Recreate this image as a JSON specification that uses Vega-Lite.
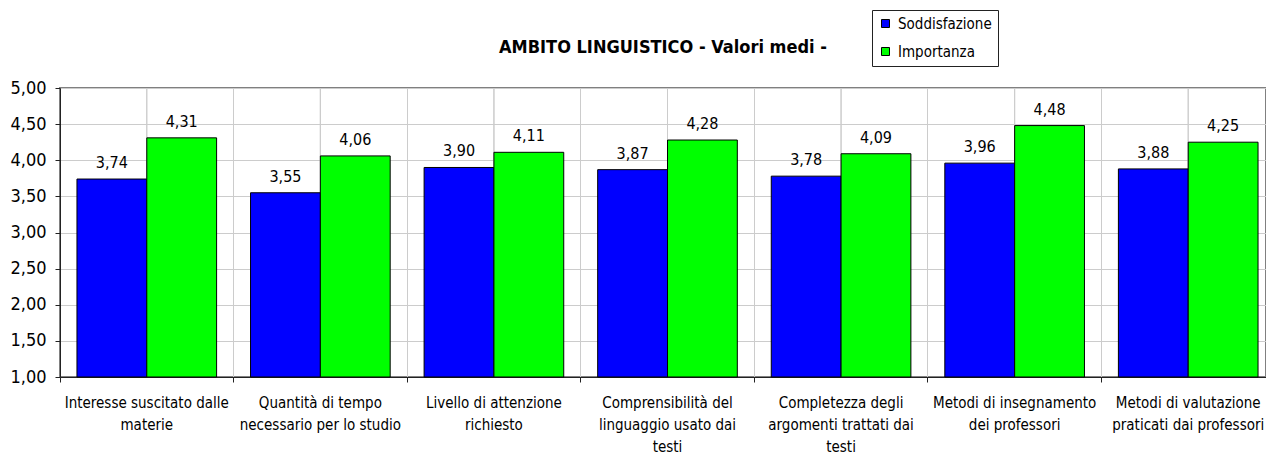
{
  "$schema": "https://vega.github.io/schema/vega-lite/v6.json",
  "autosize": {"type": "none"},
  "width": 1206,
  "height": 289,
  "padding": {"left": 60, "top": 88, "right": 0, "bottom": 80},
  "background": "white",
  "title": {
    "text": "AMBITO LINGUISTICO - Valori medi -",
    "font": "DejaVu Sans Condensed, Liberation Sans Narrow, DejaVu Sans",
    "fontSize": 18,
    "fontWeight": "bold",
    "color": "black",
    "anchor": "middle",
    "offset": 0,
    "dy": 47
  },
  "data": {
    "values": [
      {"categoria": "Interesse suscitato dalle\nmaterie", "serie": "Soddisfazione", "valore": 3.74},
      {"categoria": "Interesse suscitato dalle\nmaterie", "serie": "Importanza", "valore": 4.31},
      {"categoria": "Quantità di tempo\nnecessario per lo studio", "serie": "Soddisfazione", "valore": 3.55},
      {"categoria": "Quantità di tempo\nnecessario per lo studio", "serie": "Importanza", "valore": 4.06},
      {"categoria": "Livello di attenzione\nrichiesto", "serie": "Soddisfazione", "valore": 3.90},
      {"categoria": "Livello di attenzione\nrichiesto", "serie": "Importanza", "valore": 4.11},
      {"categoria": "Comprensibilità del\nlinguaggio usato dai\ntesti", "serie": "Soddisfazione", "valore": 3.87},
      {"categoria": "Comprensibilità del\nlinguaggio usato dai\ntesti", "serie": "Importanza", "valore": 4.28},
      {"categoria": "Completezza degli\nargomenti trattati dai\ntesti", "serie": "Soddisfazione", "valore": 3.78},
      {"categoria": "Completezza degli\nargomenti trattati dai\ntesti", "serie": "Importanza", "valore": 4.09},
      {"categoria": "Metodi di insegnamento\ndei professori", "serie": "Soddisfazione", "valore": 3.96},
      {"categoria": "Metodi di insegnamento\ndei professori", "serie": "Importanza", "valore": 4.48},
      {"categoria": "Metodi di valutazione\npraticati dai professori", "serie": "Soddisfazione", "valore": 3.88},
      {"categoria": "Metodi di valutazione\npraticati dai professori", "serie": "Importanza", "valore": 4.25}
    ]
  },
  "encoding": {
    "x": {
      "field": "categoria",
      "type": "nominal",
      "sort": null,
      "title": null,
      "scale": {"range": [0, 1215], "paddingInner": 0, "paddingOuter": 0},
      "axis": {
        "bandPosition": 0,
        "labelAngle": 0,
        "labelExpr": "split(datum.value, '\\n')",
        "labelFont": "DejaVu Sans Condensed, Liberation Sans Narrow, DejaVu Sans",
        "labelFontSize": 15,
        "labelLineHeight": 22,
        "labelColor": "black",
        "labelPadding": 13,
        "labelBaseline": "top",
        "labelBound": false,
        "labelOverlap": false,
        "labelLimit": 0,
        "tickSize": 5,
        "tickColor": "#222222",
        "domainColor": "#222222",
        "grid": true,
        "gridColor": "#cccccc"
      }
    },
    "y": {
      "field": "valore",
      "type": "quantitative",
      "title": null,
      "scale": {"domain": [1, 5], "zero": false, "nice": false},
      "axis": {
        "values": [1, 1.5, 2, 2.5, 3, 3.5, 4, 4.5, 5],
        "format": ".2f",
        "labelFont": "DejaVu Sans Condensed, Liberation Sans Narrow, DejaVu Sans",
        "labelFontSize": 18,
        "labelColor": "black",
        "labelPadding": 9,
        "tickSize": 5,
        "tickColor": "#222222",
        "domainColor": "#222222",
        "gridColor": "#cccccc"
      }
    }
  },
  "layer": [
    {
      "mark": {"type": "rule", "color": "#cccccc", "strokeWidth": 1},
      "encoding": {"y": null}
    },
    {
      "mark": {"type": "bar", "stroke": "black", "strokeWidth": 1},
      "encoding": {
        "y2": {"datum": 1},
        "xOffset": {
          "field": "serie",
          "type": "nominal",
          "sort": ["Soddisfazione", "Importanza"],
          "scale": {"paddingInner": 0, "paddingOuter": 0.243}
        },
        "color": {
          "field": "serie",
          "type": "nominal",
          "scale": {"domain": ["Soddisfazione", "Importanza"], "range": ["#0000FF", "#00FF00"]},
          "legend": {
            "title": null,
            "orient": "none",
            "legendX": 812,
            "legendY": -78,
            "direction": "vertical",
            "strokeColor": "#222222",
            "fillColor": "white",
            "padding": 6,
            "rowPadding": 12,
            "symbolType": "square",
            "symbolSize": 64,
            "symbolStrokeColor": "black",
            "symbolStrokeWidth": 1,
            "symbolOpacity": 1,
            "labelFont": "DejaVu Sans Condensed, Liberation Sans Narrow, DejaVu Sans",
            "labelFontSize": 15,
            "labelColor": "black",
            "labelOffset": 5
          }
        }
      }
    },
    {
      "mark": {"type": "text", "baseline": "alphabetic", "dy": -11, "font": "DejaVu Sans Condensed, Liberation Sans Narrow, DejaVu Sans", "fontSize": 16, "color": "black"},
      "encoding": {
        "xOffset": {
          "field": "serie",
          "type": "nominal",
          "sort": ["Soddisfazione", "Importanza"],
          "scale": {"paddingInner": 0, "paddingOuter": 0.243}
        },
        "text": {"field": "valore", "type": "quantitative", "format": ".2f"}
      }
    }
  ],
  "config": {
    "locale": {"number": {"decimal": ",", "thousands": ".", "grouping": [3], "currency": ["", " €"]}},
    "view": {"stroke": "#808080", "strokeWidth": 2}
  }
}
